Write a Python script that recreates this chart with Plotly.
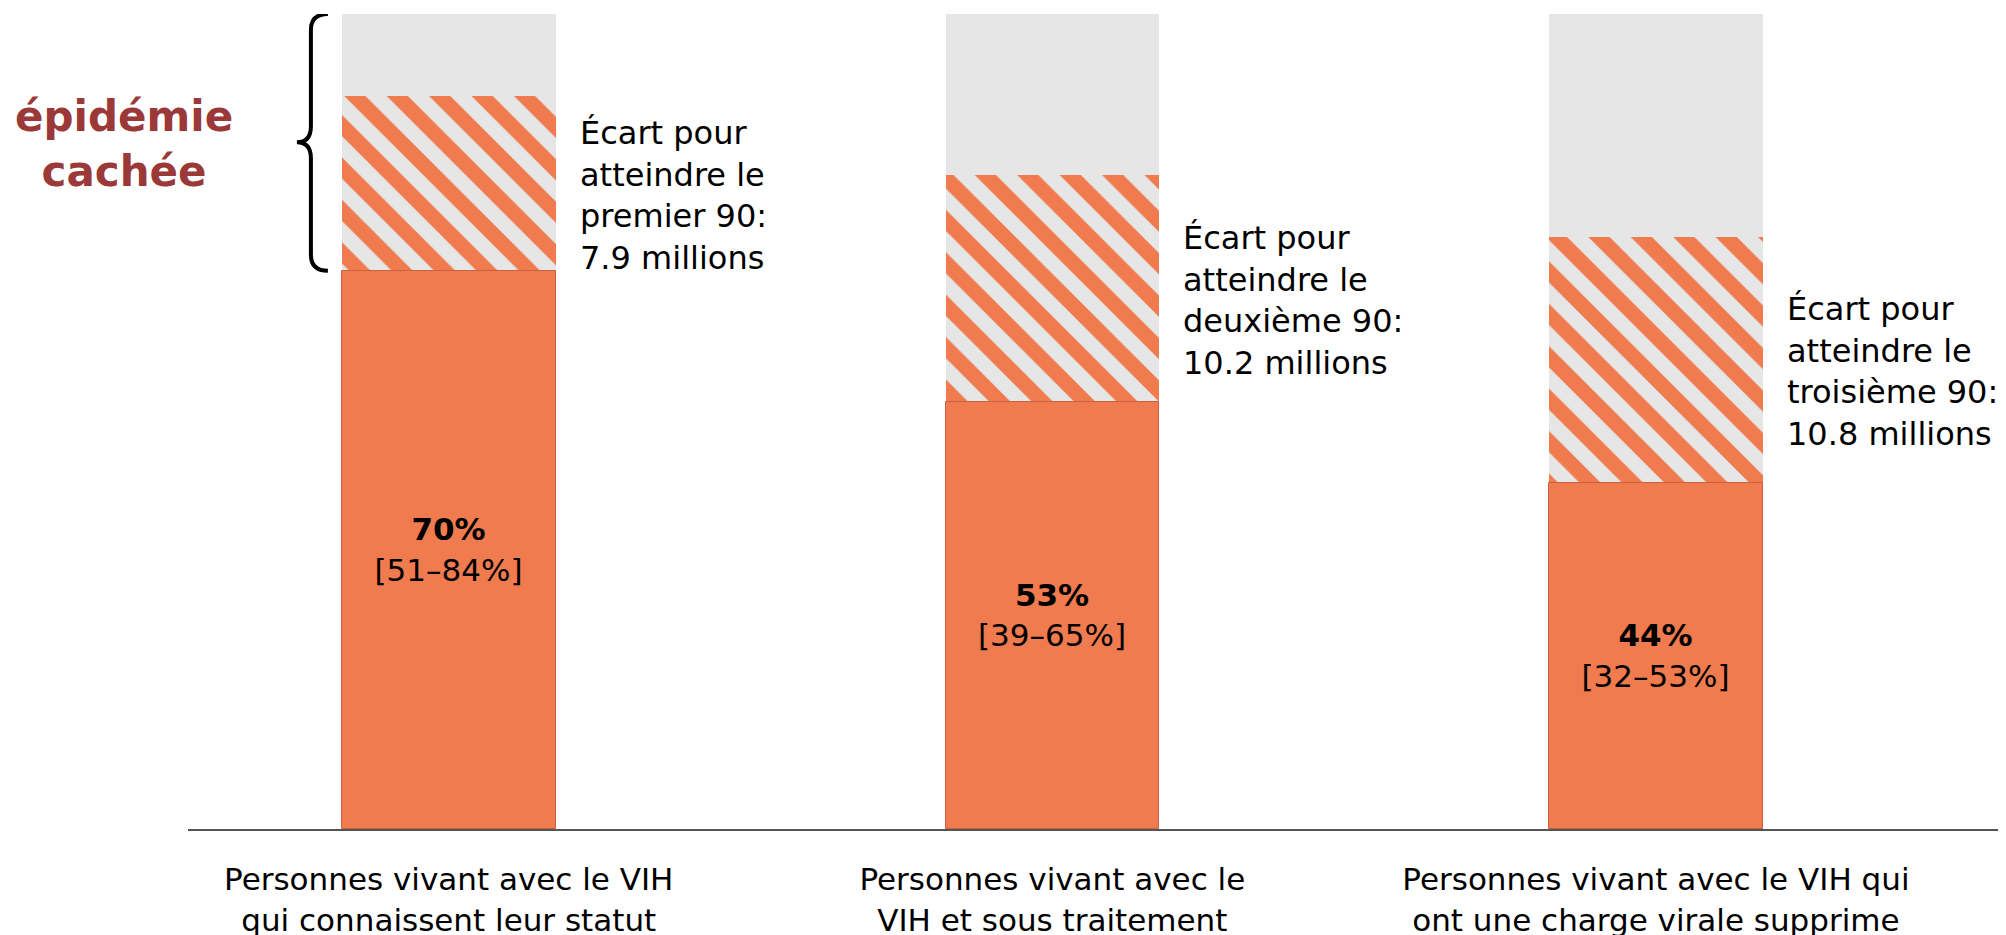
import plotly.graph_objects as go

categories = ["Personnes vivant avec le VIH<br>qui connaissent leur statut",
              "Personnes vivant avec le<br>VIH et sous traitement",
              "Personnes vivant avec le VIH qui<br>ont une charge virale supprime"]
achieved = [68.5, 52.4, 42.5]          # bar heights (% of PLHIV)
targets = [90.0, 80.3, 72.6]           # 90-90-90 target levels
totals = [100, 100, 100]
pct_labels = ["70%", "53%", "44%"]
ci_labels = ["[51–84%]", "[39–65%]", "[32–53%]"]
gap_labels = ["Écart pour<br>atteindre le<br>premier 90:<br>7.9 millions",
              "Écart pour<br>atteindre le<br>deuxième 90:<br>10.2 millions",
              "Écart pour<br>atteindre le<br>troisième 90:<br>10.8 millions"]
side_label = "épidémie<br>cachée"

ORANGE = "#EF7B4F"
GRAY = "#E6E6E6"
RED = "#9B3838"
FONT = "DejaVu Sans"

W, H = 2006, 935
PAGE_OFF = 8                      # browser body margin
ML, MR, MT, MB = 188 - PAGE_OFF, PAGE_OFF, 14 - PAGE_OFF, 935 - 829 + PAGE_OFF
BAR_W = 0.354
X0, X1 = -0.432, 2.580
Y0, Y1 = 0, 100
PLOT_W = W - ML - MR
px_x = PLOT_W / (X1 - X0)
px_y = (H - MT - MB) / (Y1 - Y0)

x = list(range(len(categories)))

fig = go.Figure()
fig.add_trace(go.Bar(x=x, y=totals, width=BAR_W, marker=dict(color=GRAY, line=dict(width=0)),
                     hoverinfo="skip", showlegend=False))
fig.add_trace(go.Bar(x=x, y=targets, width=BAR_W,
                     marker=dict(color=GRAY, line=dict(width=0),
                                 pattern=dict(shape="\\", fgcolor=ORANGE, bgcolor=GRAY,
                                              size=30, solidity=0.5, fillmode="replace")),
                     hoverinfo="skip", showlegend=False))
fig.add_trace(go.Bar(x=x, y=achieved, width=BAR_W,
                     marker=dict(color=ORANGE, line=dict(width=1, color="#C9623C")),
                     text=[f"<b>{p}</b><br>{c}" for p, c in zip(pct_labels, ci_labels)],
                     textposition="inside", insidetextanchor="middle", textangle=0,
                     insidetextfont=dict(family=FONT, size=31, color="black"),
                     hoverinfo="skip", showlegend=False))

# gap annotations to the right of each bar, centred on hatched region
for i in x:
    fig.add_annotation(x=i + BAR_W / 2, y=(achieved[i] + targets[i]) / 2, xref="x", yref="y",
                       text=gap_labels[i], showarrow=False, xanchor="left", yanchor="middle",
                       align="left", xshift=22, yshift=-12,
                       font=dict(family=FONT, size=32, color="black"))


def bx(px):
    return px / px_x


def by(px):
    return px / px_y


# curly brace spanning hidden epidemic (from 100% down to bar 1 achieved)
xe = 0 - BAR_W / 2 - bx(14)
xs = xe - bx(17)
xt = xe - bx(31)
yt, yb = totals[0], achieved[0]
ym = (yt + yb) / 2
r = by(16)
path = (f"M {xe},{yt} Q {xs},{yt} {xs},{yt - r} "
        f"L {xs},{ym + r} Q {xs},{ym} {xt},{ym} "
        f"Q {xs},{ym} {xs},{ym - r} "
        f"L {xs},{yb + r} Q {xs},{yb} {xe},{yb}")
fig.add_shape(type="path", path=path, xref="x", yref="y",
              line=dict(color="black", width=4))

fig.add_annotation(x=(124 - 188) / PLOT_W, y=ym, xref="paper", yref="y",
                   text=f"<b>{side_label}</b>",
                   showarrow=False, xanchor="center", yanchor="middle", align="center",
                   yshift=-2,
                   font=dict(family=FONT, size=42, color=RED))

fig.update_layout(
    template="none",
    width=W, height=H, barmode="overlay", bargap=0,
    margin=dict(l=ML, r=MR, t=MT, b=MB, pad=0, autoexpand=False),
    paper_bgcolor="white", plot_bgcolor="white",
    xaxis=dict(range=[X0, X1], tickvals=x, ticktext=categories, showgrid=False, zeroline=False,
               showline=True, linecolor="#555555", linewidth=2, ticks="",
               automargin=False, ticklabelstandoff=22,
               tickfont=dict(family=FONT, size=31, color="black")),
    yaxis=dict(range=[Y0, Y1], visible=False, showgrid=False, zeroline=False, automargin=False),
)

fig.write_html("out.html")
